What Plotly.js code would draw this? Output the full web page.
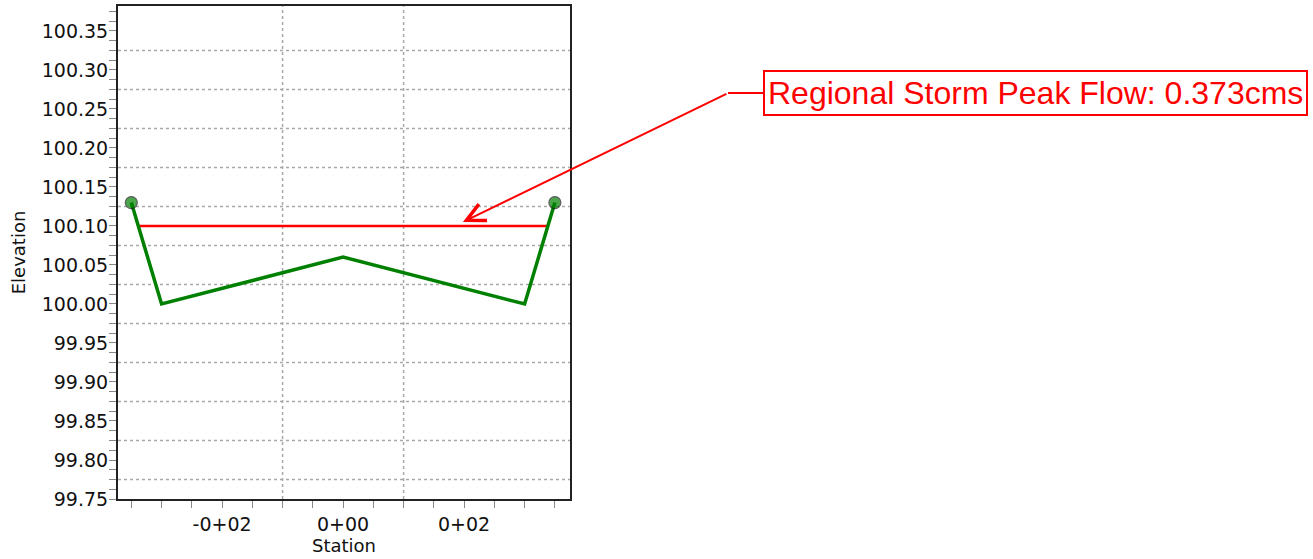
<!DOCTYPE html>
<html>
<head>
<meta charset="utf-8">
<script src="https://cdn.plot.ly/plotly-3.0.1.min.js"></script>
<style>
  html, body { margin: 0; padding: 0; background: #ffffff; }
  #chart { width: 1313px; height: 559px; }
</style>
</head>
<body>
<div id="chart"></div>
<script>
// ---- data ----
const stations = [-3.5, -3.0, 0.0, 3.0, 3.5];
const elevations = [100.13, 100.0, 100.06, 100.0, 100.13];

const waterStations = [-3.38, 3.38];
const waterElevations = [100.10, 100.10];

const xTickVals = [-2, 0, 2];
const xTickText = ['-0+02', '0+00', '0+02'];
const xGridVals = [-1, 1];

const yTickVals = [99.75, 99.80, 99.85, 99.90, 99.95, 100.00, 100.05, 100.10, 100.15, 100.20, 100.25, 100.30, 100.35];
const yGridVals = [99.775, 99.825, 99.875, 99.925, 99.975, 100.025, 100.075, 100.125, 100.175, 100.225, 100.275, 100.325];

const flowLabel = 'Regional Storm Peak Flow: 0.373cms';
const arrowTipStation = [1.98];
const arrowTipElevation = [100.105];

// ---- styling ----
const tickFont = { family: 'DejaVu Sans', size: 19, color: '#111111' };
const titleFont = { family: 'DejaVu Sans', size: 18, color: '#111111' };
const xRange = [-3.72, 3.75];
const yRange = [99.75, 100.382];
const lastIdx = stations.length - 1;
const gridLine = { color: '#a8a8a8', width: 1.5, dash: 'dot' };

const traces = [
  {
    x: waterStations,
    y: waterElevations,
    type: 'scatter',
    mode: 'lines',
    line: { color: '#ff0000', width: 2.5 },
    hoverinfo: 'skip',
    showlegend: false
  },
  {
    x: stations,
    y: elevations,
    type: 'scatter',
    mode: 'lines+markers',
    line: { color: '#008000', width: 3.5 },
    marker: {
      size: stations.map((s, i) => (i === 0 || i === lastIdx) ? 12 : 0),
      color: '#008000',
      line: { color: '#1a1a1a', width: 1.2 }
    },
    showlegend: false
  }
];

const gridShapes = [
  ...yGridVals.map(v => ({
    type: 'line', xref: 'paper', yref: 'y', x0: 0, x1: 1, y0: v, y1: v,
    line: gridLine, layer: 'below'
  })),
  ...xGridVals.map(v => ({
    type: 'line', xref: 'x', yref: 'paper', x0: v, x1: v, y0: 0, y1: 1,
    line: gridLine, layer: 'below'
  }))
];

const layout = {
  width: 1313,
  height: 559,
  margin: { l: 118, r: 743, t: 6, b: 60 },
  paper_bgcolor: '#ffffff',
  plot_bgcolor: '#ffffff',
  showlegend: false,
  xaxis: {
    range: xRange,
    tickmode: 'array',
    tickvals: xTickVals,
    ticktext: xTickText,
    ticks: '',
    ticklabelstandoff: 7,
    tickfont: tickFont,
    showgrid: false,
    zeroline: false,
    showline: true,
    linecolor: '#222222',
    linewidth: 2,
    mirror: true,
    minor: { tickmode: 'linear', tick0: 0, dtick: 0.5, ticks: 'outside', ticklen: 7, tickcolor: '#888888', tickwidth: 1, showgrid: false },
    title: { text: 'Station', font: titleFont, standoff: 2 }
  },
  yaxis: {
    range: yRange,
    tickmode: 'array',
    tickvals: yTickVals,
    tickformat: '.2f',
    ticks: 'outside',
    ticklen: 4,
    tickcolor: '#888888',
    tickfont: tickFont,
    showgrid: false,
    zeroline: false,
    showline: true,
    linecolor: '#222222',
    linewidth: 2,
    mirror: true,
    minor: { tickmode: 'linear', tick0: 99.75, dtick: 0.0125, ticks: 'outside', ticklen: 7, tickcolor: '#888888', tickwidth: 1, showgrid: false },
    title: { text: 'Elevation', font: titleFont, standoff: 11 }
  },
  shapes: gridShapes,
  annotations: [
    {
      xref: 'paper', yref: 'paper',
      x: 1.3496, y: 0.8235,
      text: flowLabel,
      font: { family: 'Liberation Sans', size: 32, color: '#ff0000' },
      bgcolor: '#ffffff',
      bordercolor: '#ff0000',
      borderwidth: 2,
      borderpad: 3,
      showarrow: true,
      arrowhead: 0,
      arrowwidth: 2,
      arrowcolor: '#ff0000',
      ax: 307, ay: 0,
      standoff: 0
    },
    {
      xref: 'x', yref: 'y',
      x: arrowTipStation[0], y: arrowTipElevation[0],
      text: '',
      showarrow: true,
      arrowhead: 5,
      arrowsize: 1.8,
      arrowwidth: 2,
      arrowcolor: '#ff0000',
      axref: 'pixel', ayref: 'pixel',
      ax: 265, ay: -129
    }
  ]
};

Plotly.newPlot('chart', traces, layout, { staticPlot: true, displayModeBar: false });
</script>
</body>
</html>
